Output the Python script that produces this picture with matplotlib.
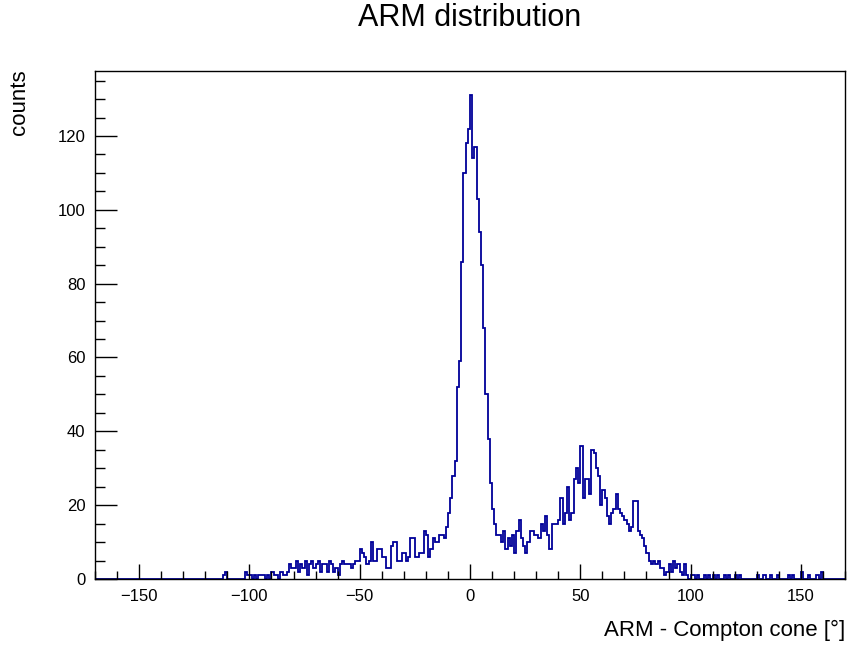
import numpy as np
import matplotlib
matplotlib.use("Agg")
import matplotlib.pyplot as plt
from matplotlib.ticker import MultipleLocator

plt.rcParams['font.family'] = ['Liberation Sans', 'DejaVu Sans']

# histogram: 1 degree bins from -170 to 170
X_MIN, X_MAX = -170, 170

# left tail, consecutive bins starting at -112 deg
left_start = -112
left_counts = [1, 2, 0, 0, 0, 0, 0, 0, 0, 0, 2, 1, 1, 0, 1, 0, 1, 1, 1, 0,
               1, 0, 2, 1, 1, 0, 2, 1, 1, 2, 4, 3, 3, 5, 2, 4, 3, 5, 1, 4,
               5, 3, 4, 5, 2, 4, 4, 2]

# rising side, starting at -64 deg
rise_start = -64
rise_counts = [5, 4, 2, 3, 1, 4, 5, 4, 4, 4, 3, 4, 5, 5, 8, 7, 6, 4, 5, 10,
               5, 5, 8, 8, 6, 6, 3, 3, 9, 10, 10, 5, 5, 7, 7, 5, 6, 11, 11, 6,
               6, 7, 7, 13, 12, 6, 8, 11, 10, 10, 12, 12, 11, 14, 18]

# main peak, starting at -9 deg
peak_start = -9
peak_counts = [22, 28, 32, 52, 59, 86, 110, 118, 122, 131, 114, 117, 103, 94,
               85, 68, 50, 38, 26, 19, 15, 12, 12]

# second bump, starting at 14 deg
bump_start = 14
bump_counts = [10, 13, 8, 11, 9, 12, 7, 13, 16, 11, 9, 7, 10, 13, 13, 12, 12,
               11, 15, 13, 17, 12, 8, 15, 15, 15, 16, 22, 15, 18, 25, 16, 18,
               27, 30, 26, 36, 22, 27, 27, 23, 35, 34, 30, 28, 20, 24, 22, 17,
               15, 18, 19, 23, 19, 18, 17, 16, 15, 13, 14, 21, 21, 13, 12, 11,
               9, 7, 5, 4, 5, 4, 5, 3, 3, 1, 2, 4, 2, 5, 3, 4, 2, 1, 4, 1]

# sparse right tail
tail_deg = [100, 101, 103, 106, 108, 110, 112, 115, 117, 120, 122, 130, 133,
            136, 139, 144, 146, 150, 153, 157, 159]
tail_cnt = [1, 1, 1, 1, 1, 1, 1, 1, 1, 1, 1, 1, 1, 1, 1, 1, 1, 2, 1, 1, 2]

edges = np.arange(X_MIN, X_MAX + 1)
hist = np.zeros(len(edges) - 1)
for start, cnts in [(left_start, left_counts), (rise_start, rise_counts),
                    (peak_start, peak_counts), (bump_start, bump_counts)]:
    i0 = start - X_MIN
    hist[i0:i0 + len(cnts)] = cnts
for d, c in zip(tail_deg, tail_cnt):
    hist[d - X_MIN] = c

fig = plt.figure(figsize=(8.48, 6.48), dpi=100)
ax = fig.add_axes([95 / 848, 69 / 648, 750 / 848, 508 / 648])

ax.stairs(hist, edges, color='#000099', lw=1.3)

ax.set_xlim(X_MIN, X_MAX)
ax.set_ylim(0, 137.6)
ax.xaxis.set_major_locator(MultipleLocator(50))
ax.xaxis.set_minor_locator(MultipleLocator(10))
ax.yaxis.set_major_locator(MultipleLocator(20))
ax.yaxis.set_minor_locator(MultipleLocator(5))
ax.tick_params(axis='x', which='major', direction='in', length=11, width=1, labelsize=12, pad=7)
ax.tick_params(axis='x', which='minor', direction='in', length=6, width=1)
ax.tick_params(axis='y', which='major', direction='in', length=16, width=1, labelsize=12, pad=7)
ax.tick_params(axis='y', which='minor', direction='in', length=7.5, width=1)
for s in ax.spines.values():
    s.set_linewidth(1)

fig.text(470 / 848, 1 - 18 / 648, 'ARM distribution', ha='center', va='center', fontsize=22)
fig.text(845 / 848, 1 - 630 / 648, 'ARM - Compton cone [°]', ha='right', va='center', fontsize=16)
fig.text(20 / 848, 1 - 69 / 648, 'counts', ha='center', va='top', rotation=90, fontsize=16)

fig.savefig('out.png', dpi=100)
